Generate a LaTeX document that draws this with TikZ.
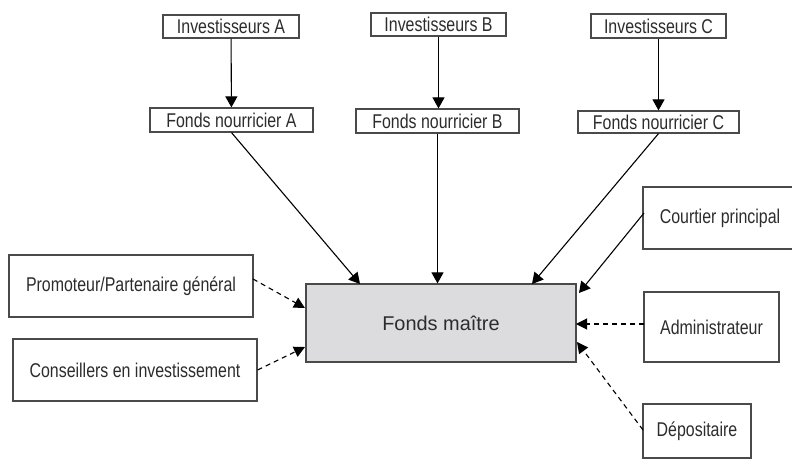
\documentclass[tikz,border=0pt]{standalone}
\usepackage{fontspec}
\setmainfont{Liberation Sans}
\newfontfamily\condfont[FakeStretch=0.8]{Liberation Sans}
\usetikzlibrary{arrows.meta}
\definecolor{boxline}{HTML}{4A4A4A}
\definecolor{labeltext}{HTML}{2C2C2C}
\definecolor{masterfill}{HTML}{DCDCDE}
\tikzset{
  fundbox/.style={draw=boxline, line width=1.2bp, text=labeltext, inner sep=0pt,
    font=\condfont\fontsize{20}{22}\selectfont},
  flow/.style={line width=1.1bp, -{Triangle[length=11bp,width=12bp]}},
  service/.style={line width=1.1bp, dash pattern=on 5bp off 4bp, -{Triangle[length=11bp,width=11bp]}},
}
\begin{document}
\begin{tikzpicture}[x=1bp,y=-1bp]
  \useasboundingbox (0,0) rectangle (792,459);

  % investors and feeder funds
  \node [fundbox, minimum width=136bp, minimum height=23bp](invA) at (231,26.5) {Investisseurs A};
  \node [fundbox, minimum width=135bp, minimum height=23bp](invB) at (438.5,24.5) {Investisseurs B};
  \node [fundbox, minimum width=135bp, minimum height=24bp](invC) at (658.5,26) {Investisseurs C};
  \node [fundbox, minimum width=163bp, minimum height=24bp](fnA) at (231.5,120) {Fonds nourricier A};
  \node [fundbox, minimum width=163bp, minimum height=24bp](fnB) at (437.5,121) {Fonds nourricier B};
  \node [fundbox, minimum width=161bp, minimum height=22bp](fnC) at (658.5,122) {Fonds nourricier C};

  % master fund
  \node [fundbox, fill=masterfill, minimum width=270bp, minimum height=78bp,
    font=\fontsize{20}{22}\selectfont](master) at (441,323) {Fonds maître};

  % service providers
  \node [fundbox, minimum width=244bp, minimum height=62bp](prom) at (131,286) {Promoteur/Partenaire général};
  \node [fundbox, minimum width=244bp, minimum height=62bp](cons) at (135,370) {Conseillers en investissement};
  \node [fundbox, minimum width=154bp, minimum height=62bp](court) at (720,218) {Courtier principal};
  \node [fundbox, minimum width=135bp, minimum height=70bp](adm) at (711.5,327) {Administrateur};
  \node [fundbox, minimum width=108bp, minimum height=54bp](dep) at (697,431) {Dépositaire};

  % connector ends on the boxes
  \coordinate (mA) at (360,284);
  \coordinate (mC) at (532,284);
  \coordinate (courtS) at (644,213);
  \coordinate (mCourt) at (579,293);
  \coordinate (promS) at (253,279);
  \coordinate (mProm) at (305,308);
  \coordinate (mCons) at (305,347);
  \coordinate (admS) at (644,324);
  \coordinate (mAdm) at (576,324);
  \coordinate (depS) at (643,430);
  \coordinate (mDep) at (577,342);

  \draw [flow] (invA) -- (fnA);
  \draw [flow] (invB.south) -- (invB.south |- fnB.north);
  \draw [flow] (invC) -- (fnC);
  \draw [flow] (fnA.south) -- (mA);
  \draw [flow] (fnB.south) -- (fnB.south |- master.north);
  \draw [flow] (fnC.south) -- (mC);
  \draw [flow] (courtS) -- (mCourt);

  \draw [service] (promS) -- (mProm);
  \draw [service] (cons.east) -- (mCons);
  \draw [service] (admS) -- (mAdm);
  \draw [service] (depS) -- (mDep);
\end{tikzpicture}
\end{document}
